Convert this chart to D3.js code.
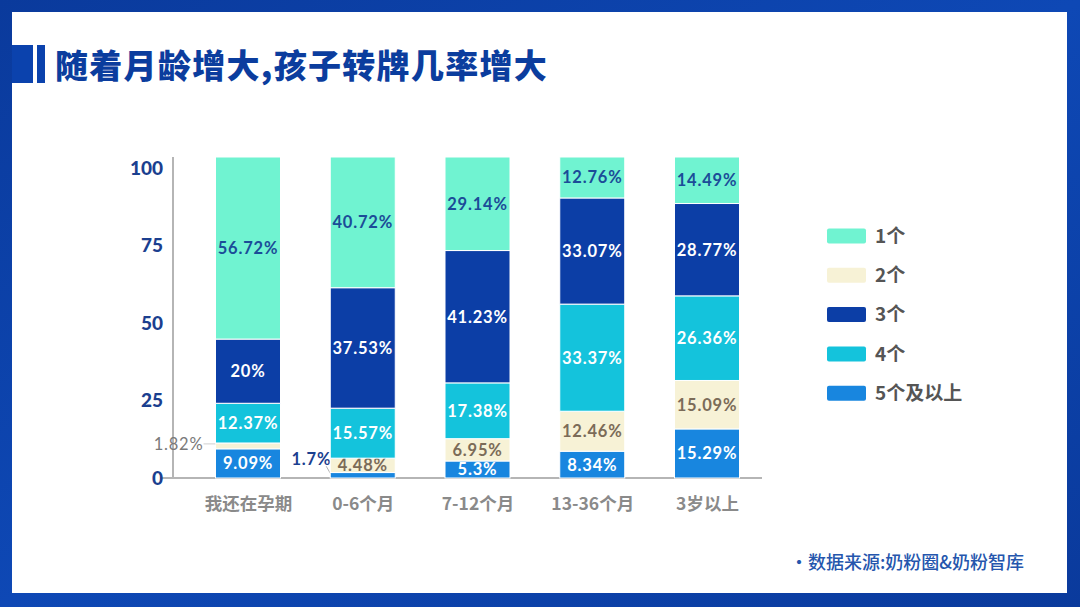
<!DOCTYPE html>
<html><head><meta charset="utf-8">
<script src="https://cdn.jsdelivr.net/npm/d3@7/dist/d3.min.js"></script>
<style>html,body{margin:0;padding:0;background:#fff}svg{display:block}</style>
</head><body>
<script>
const categories = ["我还在孕期","0-6个月","7-12个月","13-36个月","3岁以上"];
const seriesNames = ["1个","2个","3个","4个","5个及以上"];
const s1 = [56.72,40.72,29.14,12.76,14.49];
const s2 = [1.82,4.48,6.95,12.46,15.09];
const s3 = [20,37.53,41.23,33.07,28.77];
const s4 = [12.37,15.57,17.38,33.37,26.36];
const s5 = [9.09,1.7,5.3,8.34,15.29];
const yTicks = [0,25,50,75,100];
const title = "随着月龄增大,孩子转牌几率增大";
const source = "·数据来源:奶粉圈&奶粉智库";

const colors = {"1个":"#70f3d1","2个":"#f7f2d6","3个":"#0c3ea6","4个":"#14c3dc","5个及以上":"#1886df"};
const labelColors = {"1个":"#1b4c98","2个":"#7b6b58","3个":"#ffffff","4个":"#ffffff","5个及以上":"#ffffff"};
const values = {"1个":s1,"2个":s2,"3个":s3,"4个":s4,"5个及以上":s5};
const stackOrder = ["5个及以上","2个","4个","3个","1个"];

const W=1080,H=607;
const svg = d3.select("body").append("svg").attr("width",W).attr("height",H);
const defs = svg.append("defs");
const g1 = defs.append("linearGradient").attr("id","bg").attr("x1","0").attr("y1","0").attr("x2","1").attr("y2","1");
g1.append("stop").attr("offset","0").attr("stop-color","#0a3a9c");
g1.append("stop").attr("offset","0.5").attr("stop-color","#0e48b5");
g1.append("stop").attr("offset","1").attr("stop-color","#0a3a9c");
svg.append("rect").attr("width",W).attr("height",H).attr("fill","url(#bg)");
svg.append("rect").attr("x",12).attr("y",12).attr("width",1055).attr("height",581).attr("fill","#ffffff");

// title decorations
svg.append("rect").attr("x",12).attr("y",45).attr("width",21).attr("height",38).attr("fill","#0b42ad");
svg.append("rect").attr("x",37).attr("y",45).attr("width",8).attr("height",38).attr("fill","#0b42ad");
svg.append("text").attr("x",55).attr("y",78).text(title)
  .attr("font-family","'Noto Sans CJK SC'").attr("font-weight",900).attr("font-size",33)
  .attr("fill","#0b3d9e").attr("letter-spacing",1.3);

const data = categories.map((c,i)=>{const o={cat:c}; seriesNames.forEach(s=>o[s]=values[s][i]); return o;});
const stacked = d3.stack().keys(stackOrder)(data);

const x = d3.scalePoint().domain(categories).range([248,707]);
const bw = 65;
const y = d3.scaleLinear().domain([0,100]).range([478,157]);
const yAxisScale = d3.scaleLinear().domain([0,100]).range([478,168]);

// axes
svg.append("line").attr("x1",173).attr("x2",173).attr("y1",157).attr("y2",478).attr("stroke","#b5b5b5").attr("stroke-width",2);
svg.append("line").attr("x1",160).attr("x2",762).attr("y1",478).attr("y2",478).attr("stroke","#b5b5b5").attr("stroke-width",2);

const yAxis = svg.append("g").attr("transform","translate(163,0)")
  .call(d3.axisLeft(yAxisScale).tickValues(yTicks).tickSize(0).tickPadding(0));
yAxis.select(".domain").remove();
yAxis.selectAll("text").attr("font-family","Lato").attr("font-weight",900).attr("font-size",19).attr("fill","#1b3f8f");

const xAxis = svg.append("g").attr("transform","translate(0,478)")
  .call(d3.axisBottom(x).tickSize(0).tickPadding(20));
xAxis.select(".domain").remove();
xAxis.selectAll("text").attr("font-family","'Noto Sans CJK SC'").attr("font-weight",700).attr("font-size",17.5).attr("fill","#8a8a8a");

// bars
stacked.forEach(layer=>{
  const key = layer.key;
  const gL = svg.append("g");
  gL.selectAll("rect").data(layer).join("rect")
    .attr("x",d=>x(d.data.cat)-bw/2).attr("width",bw)
    .attr("y",d=>y(d[1])).attr("height",d=>y(d[0])-y(d[1]))
    .attr("fill",colors[key]).attr("stroke","#fff").attr("stroke-width",1);
  gL.selectAll("text").data(layer.filter(d=>d[1]-d[0]>=3)).join("text")
    .attr("x",d=>x(d.data.cat)).attr("y",d=>(y(d[0])+y(d[1]))/2)
    .attr("dy","0.36em").attr("text-anchor","middle")
    .attr("font-family","Lato").attr("font-weight",700).attr("font-size",16.5).attr("letter-spacing",0.8)
    .attr("fill",labelColors[key]).text(d=>(+(d[1]-d[0]).toFixed(2))+"%");
  // small segments: outside labels
  layer.filter(d=>d[1]-d[0]<3).forEach(d=>{
    const v = +(d[1]-d[0]).toFixed(2);
    const cx = x(d.data.cat)-bw/2;
    const cy = (y(d[0])+y(d[1]))/2;
    if(key==="2个"){
      svg.append("line").attr("x1",cx-12).attr("x2",cx).attr("y1",cy-2).attr("y2",cy-2).attr("stroke","#cfcfcf").attr("stroke-width",1);
      svg.append("text").attr("x",cx-12).attr("y",cy-2).attr("dy","0.36em").attr("text-anchor","end")
        .attr("font-family","Lato").attr("font-weight",400).attr("font-size",16.5).attr("letter-spacing",0.8)
        .attr("fill","#7a7a7a").text(v+"%");
    } else {
      svg.append("line").attr("x1",cx-4).attr("x2",cx).attr("y1",cy-9).attr("y2",cy-2).attr("stroke","#b0b0b0").attr("stroke-width",1);
      svg.append("text").attr("x",cx+1).attr("y",cy-16).attr("dy","0.36em").attr("text-anchor","end")
        .attr("font-family","Lato").attr("font-weight",700).attr("font-size",16.5).attr("letter-spacing",0.8)
        .attr("fill","#1b3f8f").text(v+"%");
    }
  });
});

// legend
const leg = svg.append("g");
seriesNames.forEach((s,i)=>{
  const cy = 236 + i*39.3;
  leg.append("rect").attr("x",827).attr("y",cy-7.5).attr("width",39).attr("height",15).attr("rx",2).attr("fill",colors[s]);
  leg.append("text").attr("x",875).attr("y",cy).attr("dy","0.36em").text(s)
    .attr("font-family","'Noto Sans CJK SC'").attr("font-weight",700).attr("font-size",19).attr("fill","#555");
});

svg.append("text").attr("x",790).attr("y",569).text(source)
  .attr("font-family","'Noto Sans CJK SC'").attr("font-weight",500).attr("font-size",18).attr("fill","#2556ad");
</script>
</body></html>
